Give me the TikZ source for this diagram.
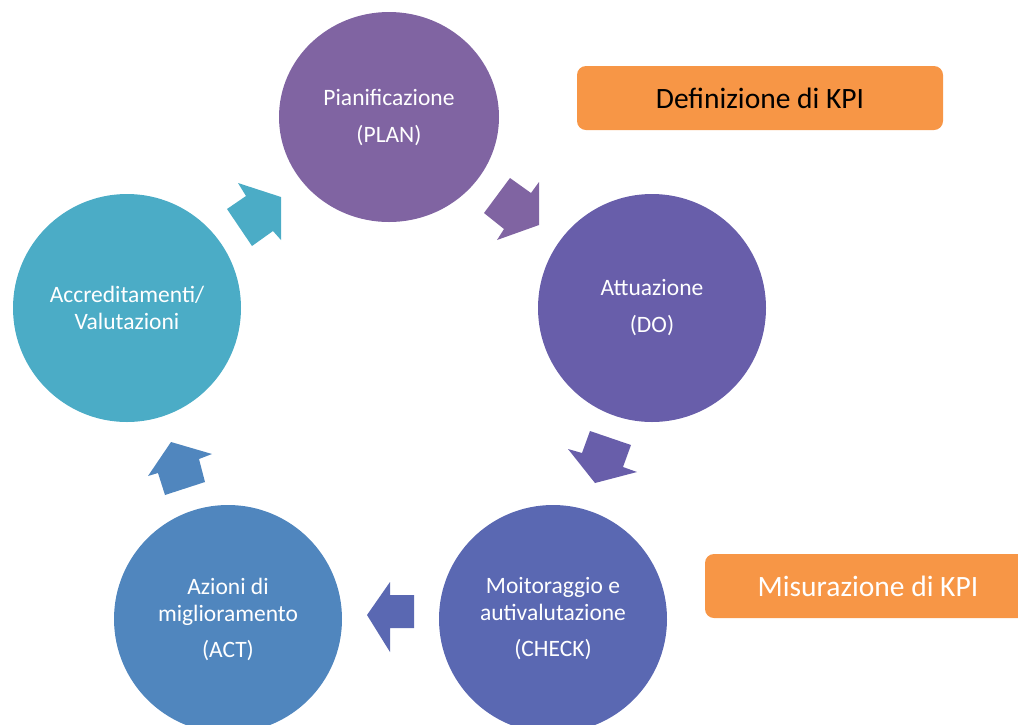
\documentclass[tikz,border=0pt]{standalone}
\usepackage{fontspec}
\setmainfont{Carlito}
\usepackage{xcolor}
\usetikzlibrary{shapes.geometric}
\definecolor{planc}{RGB}{128,100,162}
\definecolor{doc}{RGB}{104,94,170}
\definecolor{checkc}{RGB}{90,104,178}
\definecolor{actc}{RGB}{80,134,190}
\definecolor{accc}{RGB}{75,172,198}
\definecolor{kpic}{RGB}{247,150,70}
\tikzset{phase/.style={circle, inner sep=0pt, minimum size=228pt, text=white, align=center, font=\fontsize{23.5}{27}\selectfont}}
\tikzset{kpi/.style={fill=kpic, rounded corners=9pt, minimum height=64pt, font=\fontsize{29.5}{35}\selectfont}}
\tikzset{blockarrow/.style={draw=none}}

\begin{document}
\begin{tikzpicture}[x=1pt, y=-1pt]
  \useasboundingbox (0,0) rectangle (1018,724);
  \clip (0,0) rectangle (1018,724);

  \node[phase, ellipse, minimum width=220pt, minimum height=210pt, fill=planc] (plan) at (389,117) {Pianificazione\\[10pt](PLAN)};
  \node[phase, fill=doc] (do) at (652,308) {Attuazione\\[10pt](DO)};
  \node[phase, fill=checkc] (check) at (553,619) {Moitoraggio e\\autivalutazione\\[9pt](CHECK)};
  \node[phase, fill=actc] (act) at (228,619) {Azioni di\\miglioramento\\[9pt](ACT)};
  \node[phase, fill=accc] (acc) at (127,308) {Accreditamenti/\\Valutazioni};

  \fill[blockarrow, planc] (510,178) -- (531,193) -- (539,182) -- (539,225) -- (497,240) -- (504,229) -- (484,213) -- cycle;
  \fill[blockarrow, doc] (590,431) -- (631,445) -- (623,467) -- (637,472) -- (595,483) -- (568,449) -- (582,453) -- cycle;
  \fill[blockarrow, checkc] (414,595) -- (414,628) -- (390,628) -- (390,652) -- (367,615) -- (390,582) -- (390,595) -- cycle;
  \fill[blockarrow, actc] (171,442) -- (212,454) -- (199,459) -- (205,482) -- (165,495) -- (158,473) -- (148,476) -- cycle;
  \fill[blockarrow, accc] (238,183) -- (281,197) -- (281,240) -- (273,231) -- (252,246) -- (227,209) -- (246,196) -- cycle;

  \node[kpi, minimum width=366pt] (defkpi) at (760,98) {Definizione di KPI};
  \node[kpi, minimum width=326pt, text=white] (miskpi) at (868,586) {Misurazione di KPI};
\end{tikzpicture}
\end{document}
